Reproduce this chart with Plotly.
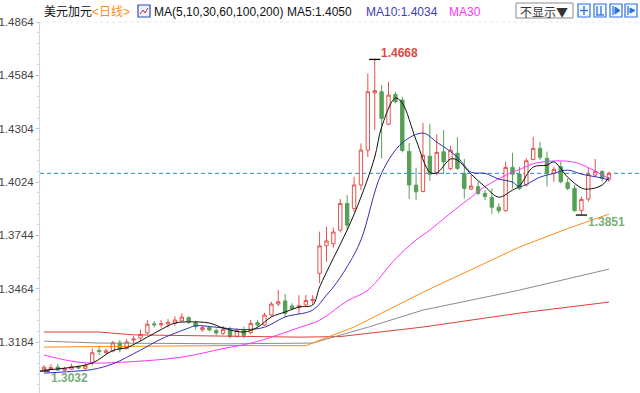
import plotly.graph_objects as go

# ---------------- data ----------------
days = list(range(83))
opens = [1.3038, 1.3040, 1.3053, 1.3036, 1.3042, 1.3055, 1.3046, 1.3076, 1.3140, 1.3128,
         1.3137, 1.3180, 1.3150, 1.3195, 1.3205, 1.3232, 1.3280, 1.3275, 1.3280, 1.3282,
         1.3295, 1.3312, 1.3286, 1.3248, 1.3260, 1.3244, 1.3230, 1.3248, 1.3213, 1.3248,
         1.3234, 1.3286, 1.3274, 1.3326, 1.3384, 1.3400, 1.3374, 1.3365, 1.3379, 1.3402,
         1.3545, 1.3690, 1.3700, 1.3772, 1.3912, 1.3886, 1.4009, 1.4192, 1.4493, 1.4498,
         1.4328, 1.4484, 1.4455, 1.4185, 1.4008, 1.3975, 1.4160, 1.4070, 1.4183, 1.4095,
         1.4175, 1.4069, 1.3987, 1.4000, 1.3965, 1.3944, 1.3892, 1.3874, 1.4101, 1.4066,
         1.4009, 1.4143, 1.4201, 1.4149, 1.4070, 1.4105, 1.4021, 1.3991, 1.3874, 1.3935,
         1.4061, 1.4079, 1.4039]
highs = [1.3062, 1.3068, 1.3070, 1.3055, 1.3070, 1.3062, 1.3072, 1.3150, 1.3165, 1.3150,
         1.3190, 1.3195, 1.3200, 1.3215, 1.3250, 1.3300, 1.3295, 1.3300, 1.3305, 1.3320,
         1.3335, 1.3320, 1.3296, 1.3270, 1.3270, 1.3255, 1.3268, 1.3265, 1.3256, 1.3265,
         1.3300, 1.3300, 1.3338, 1.3396, 1.3458, 1.3437, 1.3388, 1.3430, 1.3431, 1.3430,
         1.3764, 1.3790, 1.3785, 1.3935, 1.3956, 1.4052, 1.4227, 1.4594, 1.4668, 1.4533,
         1.4550, 1.4498, 1.4472, 1.4230, 1.4100, 1.4335, 1.4330, 1.4275, 1.4297, 1.4215,
         1.4260, 1.4145, 1.4061, 1.4026, 1.3982, 1.3991, 1.3912, 1.4131, 1.4178, 1.4105,
         1.4149, 1.4262, 1.4236, 1.4184, 1.4105, 1.4131, 1.4044, 1.4009, 1.3948, 1.4100,
         1.4145, 1.4087, 1.4079]
lows = [1.3032, 1.3035, 1.3032, 1.3033, 1.3038, 1.3042, 1.3040, 1.3062, 1.3115, 1.3122,
        1.3130, 1.3130, 1.3145, 1.3180, 1.3190, 1.3225, 1.3260, 1.3260, 1.3262, 1.3270,
        1.3290, 1.3279, 1.3250, 1.3239, 1.3240, 1.3220, 1.3222, 1.3204, 1.3210, 1.3204,
        1.3226, 1.3265, 1.3270, 1.3318, 1.3373, 1.3314, 1.3352, 1.3330, 1.3370, 1.3379,
        1.3493, 1.3606, 1.3680, 1.3760, 1.3772, 1.3868, 1.3982, 1.4156, 1.4297, 1.4148,
        1.4323, 1.4437, 1.4180, 1.3935, 1.3930, 1.3970, 1.4030, 1.4060, 1.4066, 1.4087,
        1.4087, 1.3938, 1.3982, 1.3956, 1.3930, 1.3858, 1.3860, 1.3869, 1.3991, 1.3982,
        1.4000, 1.4140, 1.4140, 1.4000, 1.4026, 1.4017, 1.3982, 1.3869, 1.3851, 1.3921,
        1.4052, 1.4026, 1.4026]
closes = [1.3052, 1.3050, 1.3038, 1.3045, 1.3055, 1.3048, 1.3060, 1.3128, 1.3135, 1.3138,
          1.3180, 1.3148, 1.3185, 1.3200, 1.3225, 1.3278, 1.3275, 1.3280, 1.3287, 1.3300,
          1.3315, 1.3290, 1.3265, 1.3260, 1.3248, 1.3232, 1.3251, 1.3213, 1.3244, 1.3220,
          1.3282, 1.3274, 1.3326, 1.3384, 1.3396, 1.3335, 1.3361, 1.3375, 1.3402, 1.3408,
          1.3689, 1.3715, 1.3762, 1.3912, 1.3798, 1.4009, 1.4192, 1.4498, 1.4504, 1.4358,
          1.4481, 1.4446, 1.4190, 1.4009, 1.3973, 1.4165, 1.4065, 1.4180, 1.4130, 1.4192,
          1.4096, 1.3991, 1.4003, 1.3965, 1.3948, 1.3892, 1.3874, 1.4101, 1.4066, 1.3991,
          1.4136, 1.4201, 1.4154, 1.4070, 1.4091, 1.4026, 1.3991, 1.3874, 1.3933, 1.4065,
          1.4079, 1.4044, 1.4070]

ma5_x = [0, 3, 7, 10, 12, 15, 17, 19, 21, 24, 26, 29, 31, 33, 35, 37, 39, 40, 42, 44, 46,
         48, 49, 51, 52, 54, 56, 57, 59, 60, 62, 64, 66, 68, 69, 71, 73, 74, 76, 78, 79, 81, 82]
ma5_vals = [1.3037, 1.3047, 1.3074, 1.3140, 1.3155, 1.3210, 1.3250, 1.3284, 1.3290, 1.3284,
            1.3258, 1.3237, 1.3262, 1.3316, 1.3342, 1.3368, 1.3379, 1.3473, 1.3625, 1.3772,
            1.3945, 1.4155, 1.4313, 1.4465, 1.4439, 1.4245, 1.4076, 1.4072, 1.4145, 1.4139,
            1.4065, 1.4000, 1.3945, 1.3982, 1.4003, 1.4103, 1.4113, 1.4130, 1.4050, 1.3993,
            1.3987, 1.4008, 1.4050]
ma10_x = [0, 4, 7, 10, 14, 17, 21, 22, 25, 29, 32, 35, 39, 41, 42, 44, 46, 49, 52, 55, 57,
          60, 62, 64, 66, 68, 69, 72, 74, 76, 78, 81, 82]
ma10_vals = [1.3021, 1.3030, 1.3040, 1.3070, 1.3142, 1.3200, 1.3258, 1.3270, 1.3262, 1.3250,
             1.3262, 1.3316, 1.3352, 1.3431, 1.3473, 1.3580, 1.3720, 1.4071, 1.4230, 1.4281,
             1.4234, 1.4155, 1.4076, 1.4070, 1.4040, 1.4024, 1.4000, 1.4050, 1.4070, 1.4087,
             1.4066, 1.4045, 1.4034]
ma30_x = [0, 4, 7, 13, 20, 26, 30, 33, 37, 40, 44, 47, 51, 54, 56, 59, 62, 64, 67, 69, 71,
          74, 77, 79, 82]
ma30_vals = [1.3116, 1.3084, 1.3074, 1.3082, 1.3105, 1.3150, 1.3178, 1.3210, 1.3260, 1.3299,
             1.3400, 1.3457, 1.3620, 1.3720, 1.3772, 1.3861, 1.3945, 1.4000, 1.4060, 1.4090,
             1.4120, 1.4135, 1.4128, 1.4100, 1.4042]
ma60_x = [0, 27, 38, 45, 55, 62, 69, 76, 82]
ma60_vals = [1.3158, 1.3166, 1.3165, 1.3263, 1.3446, 1.3565, 1.3683, 1.3780, 1.3856]
ma100_x = [0, 8, 27, 39, 47, 55, 69, 82]
ma100_vals = [1.3189, 1.3179, 1.3175, 1.3179, 1.3262, 1.3352, 1.3457, 1.3567]
ma200_x = [0, 8, 13, 37, 43, 55, 69, 82]
ma200_vals = [1.3237, 1.3237, 1.3222, 1.3210, 1.3213, 1.3263, 1.3336, 1.3394]

ytick_vals = [1.3184, 1.3464, 1.3744, 1.4024, 1.4304, 1.4584, 1.4864]

# ---------------- figure ----------------
W, H = 640, 393
ML, MT = 40, 22
PW, PH = W - ML, H - MT


def px(x):
    return (x - ML) / PW


def py(y):
    return (H - y) / PH


UP = '#e2524b'
DOWN = '#56a056'
LATIN = 'Liberation Sans, Arial, Noto Sans CJK SC'

fig = go.Figure()
fig.add_trace(go.Candlestick(
    x=days, open=opens, high=highs, low=lows, close=closes,
    increasing=dict(line=dict(color=UP, width=1), fillcolor='#ffffff'),
    decreasing=dict(line=dict(color=DOWN, width=1), fillcolor=DOWN),
    whiskerwidth=0, showlegend=False, hoverinfo='skip'))

for xs, ys, col, sp in [(ma200_x, ma200_vals, '#d9413a', 'linear'),
                        (ma100_x, ma100_vals, '#8c8c8c', 'linear'),
                        (ma60_x, ma60_vals, '#ff8a1c', 'linear'),
                        (ma30_x, ma30_vals, '#ff33ff', 'spline'),
                        (ma10_x, ma10_vals, '#3030b4', 'spline'),
                        (ma5_x, ma5_vals, '#111111', 'spline')]:
    fig.add_trace(go.Scatter(x=xs, y=ys, mode='lines', showlegend=False, hoverinfo='skip',
                             line=dict(color=col, width=1, shape=sp)))

# extreme markers
i_hi = max(days, key=lambda i: highs[i])
i_lo = min(days, key=lambda i: lows[i])
recent = days[60:]
i_lo2 = min(recent, key=lambda i: lows[i])
fig.add_trace(go.Scatter(x=[i_hi, i_lo, i_lo2], y=[highs[i_hi], lows[i_lo], lows[i_lo2]],
                         mode='markers', showlegend=False, hoverinfo='skip',
                         marker=dict(symbol='line-ew', size=8, color='#000',
                                     line=dict(color='#000', width=1.3))))

ann = []
ann.append(dict(x=i_hi, y=highs[i_hi], xref='x', yref='y', text=f'{highs[i_hi]:.4f}',
                showarrow=False, xanchor='left', yanchor='middle', xshift=4, yshift=6,
                font=dict(family=LATIN, size=12, color='#dc4a44', weight='bold')))
for i in (i_lo, i_lo2):
    ann.append(dict(x=i, y=lows[i], xref='x', yref='y', text=f'{lows[i]:.4f}',
                    showarrow=False, xanchor='left', yanchor='middle', xshift=5, yshift=-7,
                    font=dict(family=LATIN, size=12, color='#78b078', weight='bold')))

# header
hy = py(12)
header = [
    (42, '美元加元', '#111111'),
    (90, '<日线>', '#ff8c1a'),
    (152, 'MA(5,10,30,60,100,200)', '#111111'),
    (285, f'MA5:{ma5_vals[-1]:.4f}', '#111111'),
    (364, f'MA10:{ma10_vals[-1]:.4f}', '#3d3db4'),
    (447, 'MA30', '#ff33ff'),
]
for x0, t, c in header:
    ann.append(dict(x=px(x0), y=hy, xref='paper', yref='paper', text=t, showarrow=False,
                    xanchor='left', yanchor='middle',
                    font=dict(family=LATIN, size=12, color=c)))
ann.append(dict(x=px(544), y=py(11), xref='paper', yref='paper', text='不显示▼',
                showarrow=False, xanchor='center', yanchor='middle',
                font=dict(family='Noto Sans CJK SC', size=12, color='#333333')))

shapes = []
# last price dashed line
shapes.append(dict(type='line', xref='paper', yref='y', x0=0, x1=1,
                   y0=closes[-1], y1=closes[-1],
                   line=dict(color='#1f86f0', width=1, dash='4px,3px'), layer='below'))
# faint top dotted line
shapes.append(dict(type='line', xref='paper', yref='paper', x0=0, x1=1, y0=1, y1=1,
                   line=dict(color='#e3e7ee', width=1, dash='dot'), layer='below'))
# header icon
shapes.append(dict(type='rect', xref='paper', yref='paper', x0=px(138), x1=px(150),
                   y0=py(17), y1=py(5), line=dict(color='#2b4fb0', width=1.2),
                   fillcolor='#eef2ff'))
shapes.append(dict(type='path', xref='paper', yref='paper',
                   path=f'M {px(140)},{py(14)} L {px(143)},{py(10)} L {px(145)},{py(13)} L {px(148)},{py(8)}',
                   line=dict(color='#d03030', width=1)))
# "不显示" button
shapes.append(dict(type='rect', xref='paper', yref='paper', x0=px(516), x1=px(573),
                   y0=py(18), y1=py(3), line=dict(color='#8a8a8a', width=1),
                   fillcolor='#ffffff'))
# four tool buttons
for bx in (578, 594, 610, 625):
    shapes.append(dict(type='rect', xref='paper', yref='paper', x0=px(bx), x1=px(bx + 12),
                       y0=py(17), y1=py(4), line=dict(color='#2f6fe0', width=1.2),
                       fillcolor='#f4f8ff'))
# glyphs inside buttons
g = dict(color='#2f6fe0', width=1.3)
shapes += [
    dict(type='line', xref='paper', yref='paper', x0=px(584), x1=px(584), y0=py(15), y1=py(6), line=g),
    dict(type='line', xref='paper', yref='paper', x0=px(580), x1=px(588), y0=py(10.5), y1=py(10.5), line=g),
    dict(type='line', xref='paper', yref='paper', x0=px(597), x1=px(597), y0=py(15), y1=py(6), line=g),
    dict(type='line', xref='paper', yref='paper', x0=px(601), x1=px(601), y0=py(15), y1=py(6), line=g),
    dict(type='line', xref='paper', yref='paper', x0=px(596), x1=px(604), y0=py(15), y1=py(15), line=g),
    dict(type='line', xref='paper', yref='paper', x0=px(613), x1=px(613), y0=py(15), y1=py(6), line=g),
    dict(type='path', xref='paper', yref='paper',
         path=f'M {px(615)},{py(7)} L {px(620)},{py(10.5)} L {px(615)},{py(14)} Z',
         line=dict(color='#2f6fe0', width=1), fillcolor='#2f6fe0'),
    dict(type='line', xref='paper', yref='paper', x0=px(628), x1=px(628), y0=py(15), y1=py(6), line=g),
    dict(type='path', xref='paper', yref='paper',
         path=f'M {px(630)},{py(8)} L {px(635)},{py(10.5)} L {px(630)},{py(13)} Z',
         line=dict(color='#2f6fe0', width=1), fillcolor='#2f6fe0'),
]

top = 1.48645
span = 0.000525 * PH
fig.update_layout(
    width=W, height=H, margin=dict(l=ML, r=0, t=MT, b=0, autoexpand=False),
    paper_bgcolor='#ffffff', plot_bgcolor='#ffffff',
    annotations=ann, shapes=shapes,
    xaxis=dict(range=[-0.58, 86.5], visible=False, rangeslider=dict(visible=False),
               fixedrange=True, automargin=False),
    yaxis=dict(range=[top - span, top], tickvals=ytick_vals,
               ticktext=[f'{v:.4f}' for v in ytick_vals], automargin=False,
               showgrid=False, zeroline=False, showline=True, linecolor='#cfd7e6',
               linewidth=1, ticks='outside', ticklen=3, tickcolor='#b9c3d6',
               tickfont=dict(family=LATIN, size=11.5, color='#444444'),
               minor=dict(tickvals=[round(1.2960 + k * 0.0056, 4) for k in range(35)],
                          ticks='outside', ticklen=2, tickcolor='#cfd7e6'),
               fixedrange=True),
    boxgap=0.3,
)

fig.write_html('out.html', config={'displayModeBar': False},
               post_script="document.body.style.margin='0px';")
